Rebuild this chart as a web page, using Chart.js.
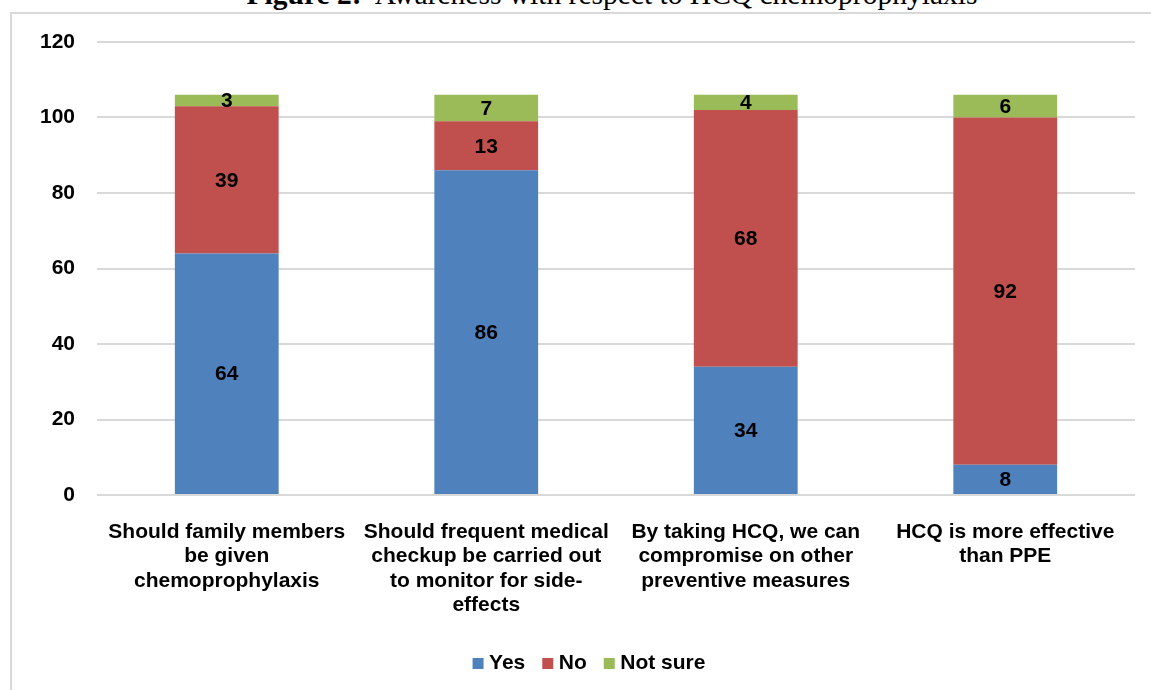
<!DOCTYPE html>
<html>
<head>
<meta charset="utf-8">
<script src="https://cdn.jsdelivr.net/npm/chart.js@4.4.0/dist/chart.umd.min.js"></script>
<style>
  html, body { margin: 0; padding: 0; background: #fff; overflow: hidden; }
  body { width: 1151px; height: 690px; position: relative; }
  #frame { position: absolute; left: 10px; top: 12px; width: 1200px; height: 700px;
           border: 2px solid #D9D9D9; box-sizing: border-box; }
  #title { position: absolute; top: -22px; left: 612px; transform: translateX(-50%);
           font-family: 'Liberation Serif', 'Times New Roman', serif; font-size: 29.5px;
           white-space: nowrap; color: #000; line-height: 32px; }
  #wrap { position: absolute; left: 0; top: 0; width: 1151px; height: 690px; }
</style>
</head>
<body>
<div id="frame"></div>
<div id="title"><b>Figure 2:</b>&nbsp; Awareness with respect to HCQ chemoprophylaxis</div>
<div id="wrap"><canvas id="c" width="1151" height="690"></canvas></div>
<script>
const categories = [
  ["Should family members", "be given", "chemoprophylaxis"],
  ["Should frequent medical", "checkup be carried out", "to monitor for side-", "effects"],
  ["By taking HCQ, we can", "compromise on other", "preventive measures"],
  ["HCQ is more effective", "than PPE"]
];
const seriesNames = ["Yes", "No", "Not sure"];
const yesValues = [64, 86, 34, 8];
const noValues = [39, 13, 68, 92];
const notSureValues = [3, 7, 4, 6];
const yTicks = [0, 20, 40, 60, 80, 100, 120];

const FONT = "'Liberation Sans', Arial, sans-serif";

const valueLabels = {
  id: 'valueLabels',
  afterDatasetsDraw(chart) {
    const ctx = chart.ctx;
    ctx.save();
    ctx.font = "bold 21px " + FONT;
    ctx.fillStyle = '#000';
    ctx.textAlign = 'center';
    ctx.textBaseline = 'middle';
    chart.data.datasets.forEach((ds, i) => {
      const meta = chart.getDatasetMeta(i);
      meta.data.forEach((el, j) => {
        const y = (el.y + el.base) / 2;
        ctx.fillText(String(ds.data[j]), el.x, y + 1);
      });
    });
    ctx.restore();
  }
};

const legendShift = {
  id: 'legendShift',
  afterLayout(chart) {
    if (chart.legend) { chart.legend.left += 24; chart.legend.right += 24; }
  }
};

new Chart(document.getElementById('c'), {
  type: 'bar',
  data: {
    labels: categories,
    datasets: [
      { label: seriesNames[0], data: yesValues, backgroundColor: '#4F81BD' },
      { label: seriesNames[1], data: noValues, backgroundColor: '#C0504D' },
      { label: seriesNames[2], data: notSureValues, backgroundColor: '#9BBB59' }
    ]
  },
  options: {
    responsive: false,
    animation: false,
    devicePixelRatio: 1,
    layout: { padding: { left: 0, right: 16, top: 42, bottom: 6 } },
    datasets: { bar: { barPercentage: 0.4, categoryPercentage: 1.0 } },
    scales: {
      x: {
        stacked: true,
        grid: { display: false, drawTicks: false },
        border: { display: false },
        ticks: {
          color: '#000', font: { family: FONT, size: 21, weight: 'bold', lineHeight: 1.16 },
          padding: 25, maxRotation: 0, autoSkip: false
        },
        afterFit(scale) { scale.height = 136; }
      },
      y: {
        stacked: true,
        min: 0, max: 120,
        afterBuildTicks(scale) { scale.ticks = yTicks.map(v => ({ value: v })); },
        grid: { color: '#D9D9D9', lineWidth: 2, drawTicks: false },
        border: { display: false },
        ticks: {
          color: '#000', font: { family: FONT, size: 21, weight: 'bold' },
          padding: 22
        },
        afterFit(scale) { scale.width = 97; }
      }
    },
    plugins: {
      legend: {
        position: 'bottom',
        labels: {
          color: '#000', font: { family: FONT, size: 21, weight: 'bold' },
          usePointStyle: true, pointStyle: 'rect',
          boxWidth: 1, boxHeight: 11, padding: 22
        }
      },
      tooltip: { enabled: false },
      title: { display: false }
    }
  },
  plugins: [valueLabels, legendShift]
});
</script>
</body>
</html>
